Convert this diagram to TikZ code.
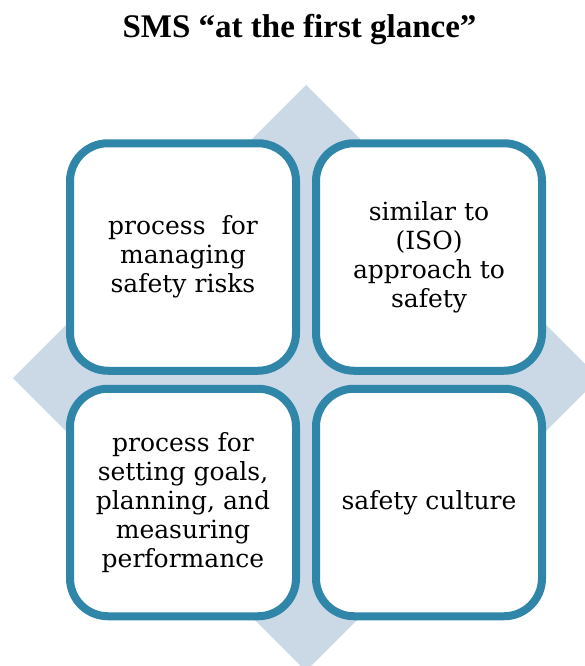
\documentclass[tikz,border=0pt]{standalone}
\usepackage{fontspec}
\setmainfont{Liberation Serif}
\newfontfamily\cardfont{DejaVu Serif}
\usetikzlibrary{shadows}
\definecolor{boxedge}{RGB}{47,134,168}
\definecolor{diamondfill}{RGB}{203,217,230}
\tikzset{
  cardbox/.style={draw=boxedge, fill=white, line width=8pt, rounded corners=38pt,
    minimum width=226pt, minimum height=227.5pt, inner sep=0pt, align=center,
    font=\cardfont\fontsize{25}{29}\selectfont,
    drop shadow={shadow xshift=1pt, shadow yshift=-3.5pt, opacity=0.28, fill=black!70}},
  titletext/.style={font=\rmfamily\bfseries\fontsize{33}{36}\selectfont, anchor=base, inner sep=0pt}
}
\begin{document}
\begin{tikzpicture}[x=1pt,y=-1pt]
\useasboundingbox (0,0) rectangle (585,666);
\clip (0,0) rectangle (585,666);
\fill[diamondfill] (306,85) -- (599,378) -- (306,671) -- (13,378) -- cycle;
\node[titletext] (title) at (299.5,38) {SMS “at the first glance”};
\node[cardbox] (b1) at (183,257) {process\ \ for\\managing\\safety risks};
\node[cardbox] (b2) at (429,257) {similar to\\(ISO)\\approach to\\safety};
\node[cardbox] (b3) at (183,502.5) {process for\\setting goals,\\planning, and\\measuring\\performance};
\node[cardbox] (b4) at (429,502.5) {safety culture};
\end{tikzpicture}
\end{document}
